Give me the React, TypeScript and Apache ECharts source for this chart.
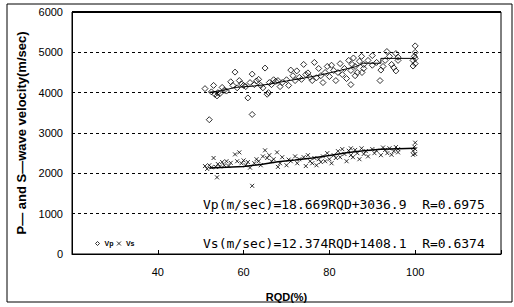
import React, { useEffect, useRef } from "react";
import * as echarts from "echarts";

const xTicks = [20, 40, 60, 80, 100, 120];
const yTicks = [0, 1000, 2000, 3000, 4000, 5000, 6000];

const vpPoints: [number, number][] = [
  [51, 4100], [52, 3330], [52.5, 4020], [53, 4180], [53.3, 3960], [53.8, 3920], [54, 4000], [54.5, 3980],
  [55, 4130], [55.5, 4060], [56, 4040], [57, 4270], [57.5, 4180], [58, 4510], [58.5, 4120], [59, 4300],
  [59.5, 4220], [60, 4180], [60.5, 4150], [61, 3870], [61.5, 4250], [62, 4460], [62, 3460], [62.5, 4200],
  [63, 4290], [63.5, 4330], [64, 4180], [64.5, 4120], [65, 4610], [65.5, 3960], [65.8, 4000], [66, 4250],
  [66.5, 4200], [67, 4320], [67.5, 4280], [68, 4300], [68.5, 4150], [69, 4250], [70, 4320], [70.5, 4180],
  [71, 4560], [71.5, 4420], [72, 4300], [72.4, 4540], [73, 4380], [73.5, 4330], [74, 4700], [74.5, 4450],
  [75, 4490], [75.5, 4380], [76, 4300], [76.5, 4750], [77, 4370], [77.5, 4600], [78, 4420], [78.5, 4250],
  [79, 4500], [79.5, 4650], [80, 4400], [80.5, 4680], [81, 4550], [81.5, 4300], [82, 4500], [82.5, 4720],
  [83, 4450], [83.5, 4600], [84, 4350], [84.5, 4800], [85, 4200], [85, 4550], [85.3, 4700], [85.6, 4860],
  [86, 4420], [86, 4650], [86.5, 4500], [87, 4780], [87.5, 4900], [87.6, 4500], [88, 4700], [88, 4600],
  [89, 4800], [90, 4920], [90, 4680], [91, 4750], [91.8, 4300], [92, 4560], [92.5, 4650], [93, 4800],
  [93.4, 5020], [94, 4900], [94.5, 4700], [95, 4620], [95.5, 4970], [95.5, 4540], [96, 4800], [96, 4880],
  [99.5, 4660], [99.5, 4800], [99.8, 4900], [100, 5000], [100, 5160], [100, 4720], [100, 4850],
];

const vsPoints: [number, number][] = [
  [51, 2180], [51.5, 2110], [52, 2200], [52.5, 2150], [53, 2380], [53.5, 2160], [53.8, 1900], [54, 2230],
  [54.5, 2170], [55, 2280], [55.5, 2200], [56, 2300], [56.5, 2180], [57, 2260], [58, 2470], [58.5, 2300],
  [59, 2520], [59.5, 2250], [60, 2320], [60.5, 2200], [61, 2280], [61.5, 2140], [62, 1690], [62.5, 2250],
  [63, 2350], [63.5, 2300], [64, 2200], [64.5, 2420], [65, 2570], [65.5, 2380], [66, 2450], [66.5, 2300],
  [67, 2350], [67.8, 2520], [68, 2160], [68.5, 2250], [69, 2400], [70, 2200], [70.5, 2340], [71, 2300],
  [72, 2420], [72.5, 2250], [73, 2350], [74, 2400], [74.5, 2180], [75, 2450], [75.5, 2300], [76, 2250],
  [76.5, 2380], [77, 2200], [77.5, 2350], [78, 2280], [78.5, 2420], [79, 2300], [79.5, 2500], [80, 2350],
  [80.5, 2250], [81, 2450], [81.5, 2380], [82, 2550], [82.5, 2400], [83, 2600], [83.5, 2480], [84, 2300],
  [84.5, 2560], [85, 2620], [85, 2450], [85.5, 2400], [86, 2580], [86.5, 2500], [87, 2350], [87.5, 2620],
  [88, 2480], [88.5, 2550], [89, 2420], [90, 2600], [90.5, 2500], [91, 2560], [92, 2450], [92.5, 2640],
  [93, 2580], [93.5, 2500], [94, 2620], [94.5, 2460], [95, 2550], [95.5, 2650], [96, 2520], [96, 2600],
  [99.5, 2460], [99.5, 2560], [99.8, 2660], [100, 2760], [100, 2480], [100, 2600],
];

const vpTrend: [number, number][] = [
  [52, 4010], [55, 4050], [58, 4130], [62, 4160], [66, 4210], [70, 4290], [74, 4360], [78, 4440],
  [82, 4540], [86, 4640], [88, 4730], [92, 4730], [92, 4850], [100, 4850],
];

const vsTrend: [number, number][] = [
  [52, 2130], [56, 2150], [60, 2170], [64, 2220], [68, 2290], [72, 2330], [76, 2380], [80, 2440],
  [84, 2510], [88, 2560], [92, 2600], [100, 2620],
];

const vpEquation = "Vp(m/sec)=18.669RQD+3036.9  R=0.6975";
const vsEquation = "Vs(m/sec)=12.374RQD+1408.1  R=0.6374";

const crossPath = "path://M0,0L10,10M10,0L0,10";

export default function App() {
  const ref = useRef<HTMLDivElement>(null);
  useEffect(() => {
    if (!ref.current) return;
    const chart = echarts.init(ref.current, null, { renderer: "svg" });
    chart.setOption({
      animation: false,
      backgroundColor: "#fff",
      textStyle: { fontFamily: "Liberation Sans", color: "#000" },
      grid: {
        left: 72, right: 13, top: 12, bottom: 47,
        show: true, borderColor: "#000", borderWidth: 1,
      },
      legend: {
        left: 95, top: 240, padding: 0, itemGap: 3, itemWidth: 4, itemHeight: 4,
        textStyle: { fontSize: 7, fontWeight: "bold", color: "#000" },
        data: [
          { name: "Vp", icon: "diamond", itemStyle: { color: "transparent", borderColor: "#000", borderWidth: 1 } },
          { name: "Vs", icon: crossPath, itemStyle: { color: "transparent", borderColor: "#000", borderWidth: 1 } },
        ],
      },
      xAxis: {
        type: "value", min: xTicks[0], max: xTicks[xTicks.length - 1], interval: 20,
        name: "RQD(%)", nameLocation: "middle", nameGap: 37,
        nameTextStyle: { fontSize: 11, fontWeight: "bold", color: "#000" },
        axisLine: { lineStyle: { color: "#000", width: 1 } },
        axisTick: { inside: true, length: 4, lineStyle: { color: "#000" } },
        axisLabel: {
          fontSize: 11, color: "#000", margin: 12,
          formatter: (v: number) => (v === xTicks[0] || v === xTicks[xTicks.length - 1] ? "" : String(v)),
        },
        splitLine: { show: false },
      },
      yAxis: {
        type: "value", min: yTicks[0], max: yTicks[yTicks.length - 1], interval: 1000,
        name: "P\u2014 and S\u2014wave velocity(m/sec)", nameLocation: "middle", nameGap: 44,
        nameTextStyle: { fontSize: 13, fontWeight: "bold", color: "#000" },
        axisLine: { show: true, lineStyle: { color: "#000", width: 1 } },
        axisTick: { show: false },
        axisLabel: { fontSize: 11, color: "#000", margin: 9, formatter: (v: number) => String(v) },
        splitLine: { show: true, lineStyle: { color: "#000", type: [3, 3], width: 1 } },
      },
      graphic: [
        { type: "rect", shape: { x: 7, y: 4, width: 505, height: 298 }, style: { fill: "none", stroke: "#000", lineWidth: 1 }, silent: true },
        { type: "line", shape: { x1: 72, y1: 12, x2: 501, y2: 12 }, style: { stroke: "#000", lineWidth: 2 }, silent: true },
        { type: "text", x: 203, y: 204, style: { text: vpEquation, font: "13px 'DejaVu Sans Mono'", fill: "#000", textVerticalAlign: "middle" } },
        { type: "text", x: 203, y: 243, style: { text: vsEquation, font: "13px 'DejaVu Sans Mono'", fill: "#000", textVerticalAlign: "middle" } },
      ],
      series: [
        {
          name: "Vp", type: "scatter", data: vpPoints, symbol: "diamond", symbolSize: 6,
          itemStyle: { color: "transparent", borderColor: "#000", borderWidth: 1 },
        },
        {
          name: "Vs", type: "scatter", data: vsPoints, symbol: crossPath, symbolSize: 4,
          itemStyle: { color: "transparent", borderColor: "#000", borderWidth: 1 },
        },
        {
          name: "VpTrend", type: "line", data: vpTrend, showSymbol: false, symbol: "none",
          lineStyle: { color: "#000", width: 1 },
        },
        {
          name: "VsTrend", type: "line", data: vsTrend, showSymbol: false, symbol: "none",
          lineStyle: { color: "#000", width: 1.5 },
        },
      ],
    });
    return () => chart.dispose();
  }, []);
  return <div ref={ref} style={{ position: "fixed", left: 0, top: 0, width: 514, height: 307 }} />;
}
